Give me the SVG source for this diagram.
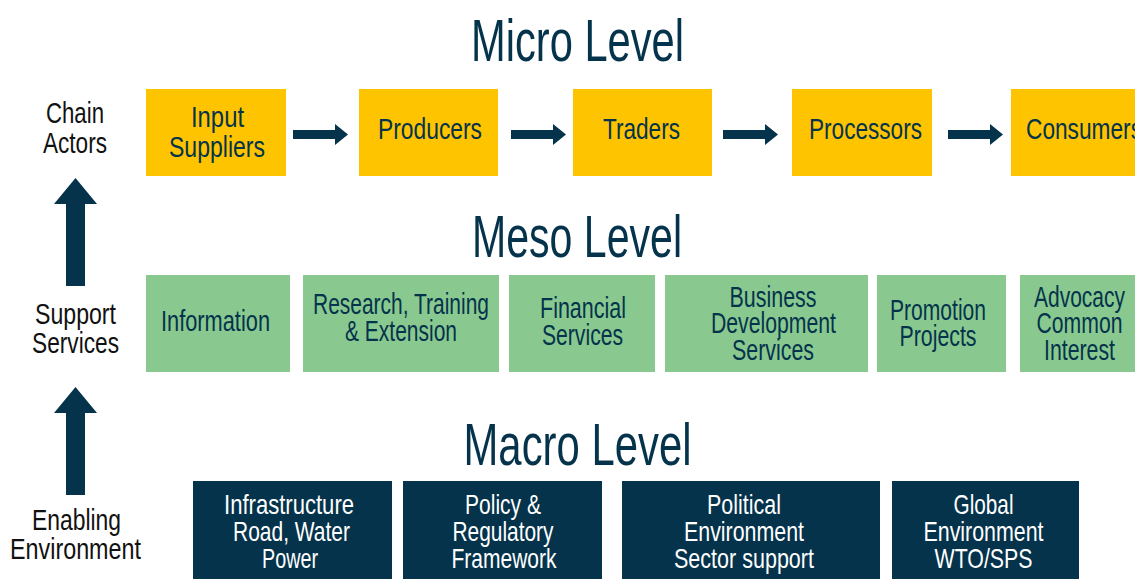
<svg xmlns="http://www.w3.org/2000/svg" width="1135" height="579" viewBox="0 0 1135 579">
<style>
text{font-family:"Liberation Sans Narrow","Liberation Sans",Arial,sans-serif;text-anchor:middle}
.title{font-size:60px;fill:#04334b}
.lbl{font-size:30px;fill:#111111}
.t{font-size:29px;fill:#04334b}
.w{font-size:28px;fill:#ffffff}
.y{fill:#ffc400}
.g{fill:#89c98f}
.n{fill:#04334b}
.arr{fill:#04334b}
</style>
<defs>
<path id="harrow" d="M0,130 H42 V124 L55,134.5 L42,145 V139 H0 Z"/>
<path id="varrow" d="M75.5,178 L97,204 H85 V286 H66 V204 H54 Z"/>
</defs>
<rect width="1135" height="579" fill="#ffffff"/>

<g id="titles">
<text class="title" x="577.5" y="61" textLength="213" lengthAdjust="spacingAndGlyphs">Micro Level</text>
<text class="title" x="577" y="257" textLength="210" lengthAdjust="spacingAndGlyphs">Meso Level</text>
<text class="title" x="577.5" y="465" textLength="228" lengthAdjust="spacingAndGlyphs">Macro Level</text>
</g>

<g id="labels">
<text class="lbl" x="75" y="123" textLength="58" lengthAdjust="spacingAndGlyphs">Chain</text>
<text class="lbl" x="75" y="153" textLength="64" lengthAdjust="spacingAndGlyphs">Actors</text>
<text class="lbl" x="75.5" y="324" textLength="81" lengthAdjust="spacingAndGlyphs">Support</text>
<text class="lbl" x="75.5" y="353" textLength="87" lengthAdjust="spacingAndGlyphs">Services</text>
<text class="lbl" x="76.5" y="530" textLength="89" lengthAdjust="spacingAndGlyphs">Enabling</text>
<text class="lbl" x="75.5" y="559" textLength="131" lengthAdjust="spacingAndGlyphs">Environment</text>
</g>

<g id="input-suppliers">
<rect class="y" x="146" y="89" width="140" height="87"/>
<text class="t" x="217.5" y="127" textLength="53" lengthAdjust="spacingAndGlyphs">Input</text>
<text class="t" x="217" y="157" textLength="96" lengthAdjust="spacingAndGlyphs">Suppliers</text>
</g>
<g id="producers">
<rect class="y" x="359" y="89" width="139" height="87"/>
<text class="t" x="430" y="139" textLength="104" lengthAdjust="spacingAndGlyphs">Producers</text>
</g>
<g id="traders">
<rect class="y" x="573" y="89" width="139" height="87"/>
<text class="t" x="641.5" y="139" textLength="77" lengthAdjust="spacingAndGlyphs">Traders</text>
</g>
<g id="processors">
<rect class="y" x="792" y="89" width="140" height="87"/>
<text class="t" x="865.5" y="139" textLength="113" lengthAdjust="spacingAndGlyphs">Processors</text>
</g>
<g id="consumers">
<rect class="y" x="1011" y="89" width="124" height="87"/>
<text class="t" x="1026" y="139" style="text-anchor:start" textLength="116" lengthAdjust="spacingAndGlyphs">Consumers</text>
</g>

<g id="information">
<rect class="g" x="146" y="275" width="144" height="97"/>
<text class="t" x="215.5" y="331" textLength="109" lengthAdjust="spacingAndGlyphs">Information</text>
</g>
<g id="research">
<rect class="g" x="303" y="275" width="196" height="97"/>
<text class="t" x="401" y="314" textLength="176" lengthAdjust="spacingAndGlyphs">Research, Training</text>
<text class="t" x="401" y="341" textLength="112" lengthAdjust="spacingAndGlyphs">&amp; Extension</text>
</g>
<g id="financial">
<rect class="g" x="509" y="275" width="146" height="97"/>
<text class="t" x="583" y="318" textLength="86" lengthAdjust="spacingAndGlyphs">Financial</text>
<text class="t" x="582.5" y="345" textLength="81" lengthAdjust="spacingAndGlyphs">Services</text>
</g>
<g id="bds">
<rect class="g" x="665" y="275" width="203" height="97"/>
<text class="t" x="773" y="307" textLength="87" lengthAdjust="spacingAndGlyphs">Business</text>
<text class="t" x="773.5" y="333" textLength="125" lengthAdjust="spacingAndGlyphs">Development</text>
<text class="t" x="773" y="360" textLength="82" lengthAdjust="spacingAndGlyphs">Services</text>
</g>
<g id="promotion">
<rect class="g" x="877" y="275" width="129" height="97"/>
<text class="t" x="938" y="320" textLength="96" lengthAdjust="spacingAndGlyphs">Promotion</text>
<text class="t" x="938" y="346" textLength="77" lengthAdjust="spacingAndGlyphs">Projects</text>
</g>
<g id="advocacy">
<rect class="g" x="1020" y="275" width="115" height="97"/>
<text class="t" x="1079.5" y="307" textLength="91" lengthAdjust="spacingAndGlyphs">Advocacy</text>
<text class="t" x="1079.5" y="333" textLength="86" lengthAdjust="spacingAndGlyphs">Common</text>
<text class="t" x="1079.5" y="360" textLength="71" lengthAdjust="spacingAndGlyphs">Interest</text>
</g>

<g id="infrastructure">
<rect class="n" x="193" y="481" width="199" height="98"/>
<text class="w" x="289" y="514" textLength="130" lengthAdjust="spacingAndGlyphs">Infrastructure</text>
<text class="w" x="291.5" y="541" textLength="117" lengthAdjust="spacingAndGlyphs">Road, Water</text>
<text class="w" x="290" y="568" textLength="56" lengthAdjust="spacingAndGlyphs">Power</text>
</g>
<g id="policy">
<rect class="n" x="403" y="481" width="199" height="98"/>
<text class="w" x="503" y="514" textLength="76" lengthAdjust="spacingAndGlyphs">Policy &amp;</text>
<text class="w" x="503" y="541" textLength="101" lengthAdjust="spacingAndGlyphs">Regulatory</text>
<text class="w" x="504" y="568" textLength="105" lengthAdjust="spacingAndGlyphs">Framework</text>
</g>
<g id="political">
<rect class="n" x="622" y="481" width="258" height="98"/>
<text class="w" x="744" y="514" textLength="74" lengthAdjust="spacingAndGlyphs">Political</text>
<text class="w" x="744" y="541" textLength="120" lengthAdjust="spacingAndGlyphs">Environment</text>
<text class="w" x="744" y="568" textLength="140" lengthAdjust="spacingAndGlyphs">Sector support</text>
</g>
<g id="global">
<rect class="n" x="892" y="481" width="187" height="98"/>
<text class="w" x="983.5" y="514" textLength="60" lengthAdjust="spacingAndGlyphs">Global</text>
<text class="w" x="983.5" y="541" textLength="120" lengthAdjust="spacingAndGlyphs">Environment</text>
<text class="w" x="983.5" y="568" textLength="98" lengthAdjust="spacingAndGlyphs">WTO/SPS</text>
</g>

<g id="connectors" class="arr">
<use href="#harrow" transform="translate(293,0)"/>
<use href="#harrow" transform="translate(511,0)"/>
<use href="#harrow" transform="translate(723,0)"/>
<use href="#harrow" transform="translate(948,0)"/>
<use href="#varrow"/>
<use href="#varrow" transform="translate(0,209)"/>
</g>
</svg>
